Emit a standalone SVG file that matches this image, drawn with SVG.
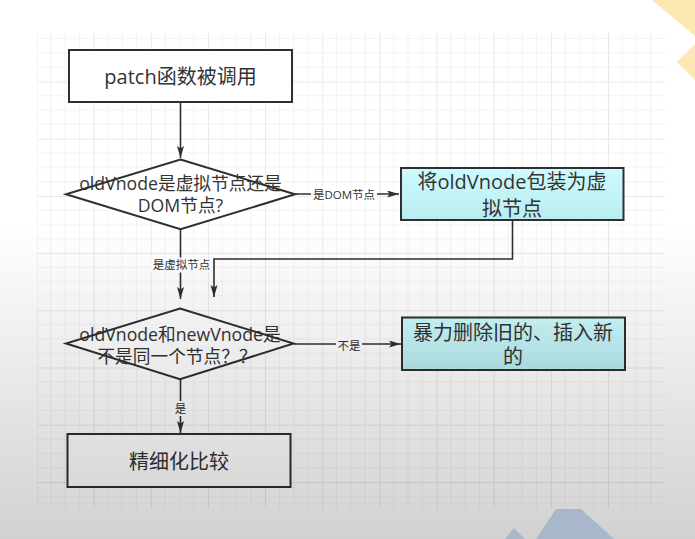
<svg xmlns="http://www.w3.org/2000/svg" width="695" height="539" viewBox="0 0 695 539">
<style>
.node{stroke:#2f2f2f;stroke-width:2}
.plain{fill:#ffffff}
.cyan{fill:url(#cyanGrad)}
.t{font-family:"Open Sans","Noto Sans CJK SC",sans-serif;font-size:20px;fill:#333;text-anchor:middle}
.td{font-family:"Open Sans","Noto Sans CJK SC",sans-serif;font-size:17.7px;fill:#333;text-anchor:middle}
.lbl{font-family:"Open Sans","Noto Sans CJK SC",sans-serif;font-size:11.5px;fill:#333;text-anchor:middle}
.edge{fill:none;stroke:#2f2f2f;stroke-width:1.6;marker-end:url(#arr)}
.lblbg{fill:#ffffff}
</style>
<defs>
<linearGradient id="cyanGrad" x1="0" y1="0" x2="0" y2="1">
<stop offset="0" stop-color="#cdfbff"/>
<stop offset="1" stop-color="#b9ecf0"/>
</linearGradient>
<linearGradient id="shade" x1="0" y1="0" x2="0" y2="539" gradientUnits="userSpaceOnUse">
<stop offset="0" stop-color="#000" stop-opacity="0"/>
<stop offset="0.42" stop-color="#000" stop-opacity="0"/>
<stop offset="1" stop-color="#000" stop-opacity="0.18"/>
</linearGradient>
<pattern id="grid" patternUnits="userSpaceOnUse" x="36.5" y="24.3" width="57.15" height="57.2">
<path d="M14.29,0V57.2M28.58,0V57.2M42.86,0V57.2M0,14.3H57.15M0,28.6H57.15M0,42.9H57.15" stroke="#f3f3f3" stroke-width="1" fill="none"/>
<path d="M0.5,0V57.2M0,0.5H57.15" stroke="#e8e8e8" stroke-width="1" fill="none"/>
</pattern>
<marker id="arr" markerUnits="userSpaceOnUse" markerWidth="13" markerHeight="8" refX="12" refY="3.5" orient="auto">
<path d="M0,0 L12,3.5 L0,7 L2.5,3.5 Z" fill="#2f2f2f"/>
</marker>
</defs>
<rect width="695" height="539" fill="#ffffff"/>
<rect x="37" y="32" width="628" height="477" fill="url(#grid)"/>

<g id="connectors">
<path class="edge" d="M180.5,102 V158"/>
<path class="edge" d="M295,194 H399"/>
<rect class="lblbg" x="311" y="187" width="66" height="15"/>
<text class="lbl" x="344" y="198.5">是DOM节点</text>
<path class="edge" d="M180.5,229 V299"/>
<rect class="lblbg" x="151" y="257.5" width="61" height="15"/>
<text class="lbl" x="181.5" y="269">是虚拟节点</text>
<path class="edge" d="M512.5,220 V259 H214 V297"/>
<path class="edge" d="M294,344 H401"/>
<rect class="lblbg" x="336" y="338" width="26" height="15"/>
<text class="lbl" x="349" y="349.5">不是</text>
<path class="edge" d="M180.5,379 V433"/>
<rect class="lblbg" x="173" y="401" width="15" height="15"/>
<text class="lbl" x="180.5" y="412.5">是</text>
</g>

<g id="node-patch">
<rect class="node plain" x="69" y="50" width="223" height="52"/>
<text class="t" x="180.5" y="83.5">patch函数被调用</text>
</g>
<g id="node-decision1">
<polygon class="node plain" points="180.5,159.5 295,194.3 180.5,229.3 66,194.3"/>
<text class="td" x="180.5" y="190">oldVnode是虚拟节点还是</text>
<text class="td" x="180.5" y="212">DOM节点?</text>
</g>
<g id="node-wrap">
<rect class="node cyan" x="401" y="168" width="222.5" height="52"/>
<text class="t" x="512" y="189">将oldVnode包装为虚</text>
<text class="t" x="512" y="216">拟节点</text>
</g>
<g id="node-decision2">
<polygon class="node plain" points="180,308.5 293.5,343.5 180,379.3 66,343.5"/>
<text class="td" x="180" y="341">oldVnode和newVnode是</text>
<text class="td" x="177" y="363">不是同一个节点？？</text>
</g>
<g id="node-replace">
<rect class="node cyan" x="402" y="317.5" width="223" height="52.5"/>
<text class="t" x="513" y="339.5">暴力删除旧的、插入新</text>
<text class="t" x="513" y="364">的</text>
</g>
<g id="node-fine">
<rect class="node plain" x="67.5" y="434" width="223" height="53"/>
<text class="t" x="179" y="468.5">精细化比较</text>
</g>

<rect width="695" height="539" fill="url(#shade)"/>
<polygon points="652,0 695,0 695,36" fill="#fde7b2"/>
<polygon points="695,44 677,62 695,80" fill="#fde7b2"/>
<polygon points="536,539 556,509 581,509 614,539" fill="#a8b7c9"/>
<polygon points="505,539 514,528 525,539" fill="#a8b7c9"/>
</svg>
